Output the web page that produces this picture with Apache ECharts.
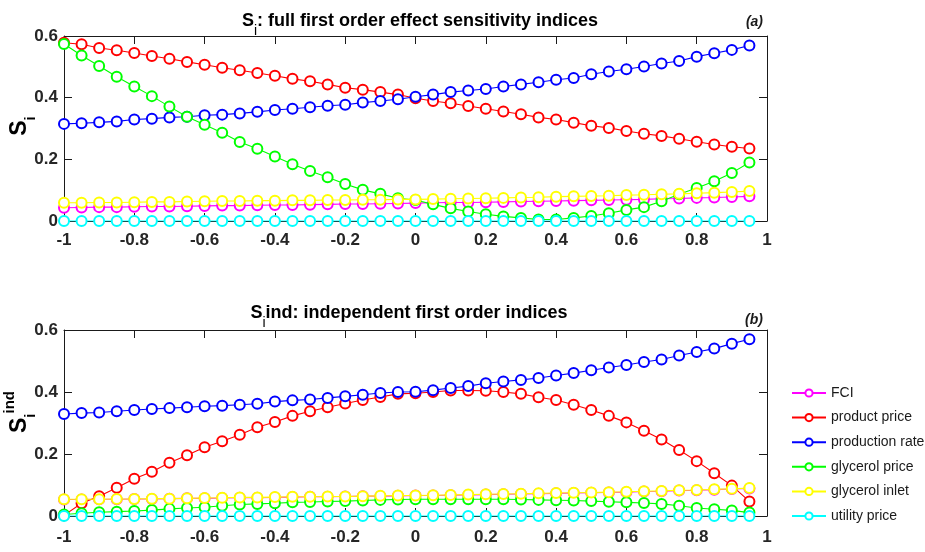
<!DOCTYPE html>
<html>
<head>
<meta charset="utf-8">
<script src="https://cdn.jsdelivr.net/npm/echarts@6/dist/echarts.min.js"></script>
<style>html,body{margin:0;padding:0;background:#fff;}#c{width:925px;height:552px;}</style>
</head>
<body>
<div id="c"></div>
<script>
// ---- data ----
const xValues = [-1,-0.95,-0.9,-0.85,-0.8,-0.75,-0.7,-0.65,-0.6,-0.55,-0.5,-0.45,-0.4,-0.35,-0.3,-0.25,-0.2,-0.15,-0.1,-0.05,
                 0,0.05,0.1,0.15,0.2,0.25,0.3,0.35,0.4,0.45,0.5,0.55,0.6,0.65,0.7,0.75,0.8,0.85,0.9,0.95];
const seriesNames = ['FCI','product price','production rate','glycerol price','glycerol inlet','utility price'];
const seriesColors = ['#ff00ff','#ff0000','#0000ff','#00ff00','#ffff00','#00ffff'];
const xTicks = [-1,-0.8,-0.6,-0.4,-0.2,0,0.2,0.4,0.6,0.8,1];
const yTicks = [0,0.2,0.4,0.6];

// (a) full first order effect sensitivity indices
const fciA = [0.043,0.044,0.045,0.045,0.046,0.047,0.047,0.048,0.049,0.050,0.050,0.051,0.052,0.052,0.053,0.054,0.055,0.055,0.056,0.057,
              0.058,0.059,0.060,0.060,0.061,0.062,0.063,0.064,0.065,0.066,0.067,0.068,0.069,0.070,0.072,0.073,0.075,0.076,0.078,0.080];
const productPriceA = [0.578,0.573,0.561,0.554,0.545,0.535,0.526,0.516,0.507,0.497,0.489,0.480,0.471,0.461,0.453,0.443,0.432,0.426,0.418,0.410,
                       0.398,0.389,0.382,0.373,0.364,0.355,0.346,0.336,0.329,0.319,0.309,0.302,0.292,0.283,0.276,0.267,0.257,0.248,0.241,0.235];
const productionRateA = [0.315,0.317,0.320,0.323,0.329,0.332,0.336,0.338,0.343,0.345,0.349,0.354,0.360,0.364,0.369,0.374,0.377,0.384,0.389,0.395,
                         0.403,0.410,0.418,0.423,0.428,0.436,0.443,0.450,0.458,0.464,0.476,0.485,0.492,0.501,0.511,0.519,0.533,0.544,0.555,0.569];
const glycerolPriceA = [0.574,0.537,0.503,0.468,0.436,0.405,0.371,0.338,0.312,0.286,0.256,0.234,0.209,0.184,0.162,0.142,0.120,0.101,0.088,0.074,
                        0.068,0.054,0.041,0.031,0.022,0.015,0.010,0.005,0.005,0.010,0.016,0.025,0.036,0.045,0.064,0.087,0.107,0.129,0.156,0.190];
const glycerolInletA = [0.059,0.059,0.060,0.060,0.061,0.062,0.062,0.063,0.064,0.065,0.065,0.066,0.066,0.067,0.067,0.068,0.068,0.069,0.069,0.070,
                        0.070,0.071,0.072,0.073,0.074,0.075,0.076,0.077,0.079,0.080,0.081,0.082,0.084,0.085,0.087,0.088,0.090,0.092,0.094,0.097];
const utilityPriceA = [0,0,0,0,0,0,0,0,0,0,0,0,0,0,0,0,0,0,0,0,0,0,0,0,0,0,0,0,0,0,0,0,0,0,0,0,0,0,0,0];

// (b) independent first order indices
const fciB = [0.053,0.053,0.054,0.054,0.055,0.055,0.056,0.057,0.057,0.058,0.059,0.059,0.060,0.061,0.062,0.062,0.063,0.064,0.064,0.065,
              0.066,0.066,0.067,0.068,0.069,0.070,0.071,0.072,0.073,0.074,0.075,0.076,0.077,0.079,0.080,0.082,0.083,0.085,0.087,0.089];
const productPriceB = [0.002,0.041,0.064,0.091,0.120,0.143,0.172,0.196,0.222,0.241,0.262,0.286,0.303,0.323,0.338,0.351,0.363,0.374,0.384,0.394,
                       0.396,0.400,0.405,0.405,0.404,0.400,0.394,0.383,0.374,0.359,0.342,0.323,0.302,0.275,0.247,0.213,0.177,0.138,0.098,0.047];
const productionRateB = [0.329,0.332,0.334,0.338,0.342,0.345,0.348,0.351,0.354,0.356,0.359,0.362,0.369,0.373,0.376,0.381,0.386,0.391,0.397,0.400,
                         0.401,0.406,0.413,0.419,0.428,0.434,0.439,0.445,0.453,0.461,0.470,0.479,0.487,0.497,0.505,0.518,0.529,0.540,0.556,0.570];
const glycerolPriceB = [0.005,0.009,0.012,0.014,0.016,0.019,0.023,0.026,0.028,0.033,0.037,0.039,0.041,0.044,0.045,0.047,0.048,0.050,0.052,0.053,
                        0.054,0.054,0.054,0.054,0.054,0.054,0.053,0.052,0.051,0.050,0.048,0.046,0.044,0.042,0.039,0.033,0.026,0.022,0.018,0.011];
const glycerolInletB = [0.054,0.054,0.054,0.055,0.055,0.056,0.056,0.057,0.058,0.059,0.060,0.060,0.061,0.062,0.062,0.063,0.063,0.064,0.065,0.066,
                        0.066,0.067,0.068,0.069,0.070,0.071,0.072,0.073,0.074,0.075,0.076,0.077,0.078,0.080,0.081,0.083,0.084,0.086,0.088,0.090];
const utilityPriceB = [0,0,0,0,0,0,0,0,0,0,0,0,0,0,0,0,0,0,0,0,0,0,0,0,0,0,0,0,0,0,0,0,0,0,0,0,0,0,0,0];

const panelA = [fciA, productPriceA, productionRateA, glycerolPriceA, glycerolInletA, utilityPriceA];
const panelB = [fciB, productPriceB, productionRateB, glycerolPriceB, glycerolInletB, utilityPriceB];

// ---- chart ----
const FONT = "'Liberation Sans', Arial, Helvetica, sans-serif";
const AX = '#1a1a1a';
const TXT = '#262626';
const chart = echarts.init(document.getElementById('c'), null, {renderer: 'canvas'});

const grids = [
  {left: 64, top: 36, width: 703, height: 185},
  {left: 64, top: 330, width: 703, height: 186}
];
const xLabelMargins = [11, 13];

function fmtTick(v) { const r = Math.round(v * 10) / 10; return String(r); }

const xAxes = [], yAxes = [];
grids.forEach((g, gi) => {
  xAxes.push({
    type: 'value', gridIndex: gi, position: 'bottom', min: xTicks[0], max: xTicks[xTicks.length - 1], interval: 0.2,
    axisLine: {show: true, onZero: false, lineStyle: {color: AX, width: 1}},
    axisTick: {show: true, inside: true, length: 8, lineStyle: {color: AX}},
    axisLabel: {show: true, margin: xLabelMargins[gi], color: TXT, fontFamily: FONT, fontWeight: 'bold', fontSize: 17, formatter: fmtTick},
    splitLine: {show: false}
  });
  xAxes.push({
    type: 'value', gridIndex: gi, position: 'top', min: xTicks[0], max: xTicks[xTicks.length - 1], interval: 0.2,
    axisLine: {show: true, onZero: false, lineStyle: {color: AX, width: 1}},
    axisTick: {show: true, inside: true, length: 8, lineStyle: {color: AX}},
    axisLabel: {show: false}, splitLine: {show: false}
  });
  yAxes.push({
    type: 'value', gridIndex: gi, position: 'left', min: yTicks[0], max: yTicks[yTicks.length - 1], interval: 0.2,
    axisLine: {show: true, onZero: false, lineStyle: {color: AX, width: 1}},
    axisTick: {show: true, inside: true, length: 8, lineStyle: {color: AX}},
    axisLabel: {show: true, margin: 6, color: TXT, fontFamily: FONT, fontWeight: 'bold', fontSize: 17, formatter: fmtTick},
    splitLine: {show: false}
  });
  yAxes.push({
    type: 'value', gridIndex: gi, position: 'right', min: yTicks[0], max: yTicks[yTicks.length - 1], interval: 0.2,
    axisLine: {show: true, onZero: false, lineStyle: {color: AX, width: 1}},
    axisTick: {show: true, inside: true, length: 8, lineStyle: {color: AX}},
    axisLabel: {show: false}, splitLine: {show: false}
  });
});

const series = [];
[panelA, panelB].forEach((panel, pi) => {
  panel.forEach((vals, si) => {
    series.push({
      name: seriesNames[si], type: 'line', xAxisIndex: pi * 2, yAxisIndex: pi * 2,
      data: xValues.map((x, i) => [x, vals[i]]),
      symbol: 'emptyCircle', symbolSize: 10, showAllSymbol: true,
      lineStyle: {color: seriesColors[si], width: 1.1},
      itemStyle: {color: seriesColors[si], borderColor: seriesColors[si], borderWidth: 1.1},
      emphasis: {disabled: true},
      z: 2 + si * 0.1,
      animation: false
    });
  });
});

const titleRich = {
  m: {fontFamily: FONT, fontWeight: 'bold', fontSize: 18, color: '#1a1a1a', lineHeight: 22},
  s: {fontFamily: FONT, fontWeight: 'normal', fontSize: 14, color: '#1a1a1a', verticalAlign: 'bottom', lineHeight: 34}
};
const ylabRich = {
  m: {fontFamily: FONT, fontWeight: 'bold', fontSize: 23, color: '#1a1a1a', lineHeight: 26},
  s: {fontFamily: FONT, fontWeight: 'bold', fontSize: 15, color: '#1a1a1a', verticalAlign: 'bottom', lineHeight: 36},
  p: {fontFamily: FONT, fontWeight: 'bold', fontSize: 15, color: '#1a1a1a', verticalAlign: 'top', lineHeight: 36}
};

chart.setOption({
  backgroundColor: '#ffffff',
  animation: false,
  grid: grids,
  xAxis: xAxes,
  yAxis: yAxes,
  legend: {
    orient: 'vertical', left: 791, top: 385, padding: 0,
    itemWidth: 34, itemHeight: 9, itemGap: 8.6,
    data: seriesNames,
    textStyle: {fontFamily: FONT, fontSize: 14, color: '#1a1a1a', lineHeight: 16},
    selectedMode: false
  },
  graphic: [
    {type: 'text', x: 420, y: 21, z: 10, style: {text: '{m|S}{s|i}{m|: full first order effect sensitivity indices}', rich: titleRich, align: 'center', verticalAlign: 'middle'}},
    {type: 'text', x: 409, y: 313, z: 10, style: {text: '{m|S}{s|i}{m|ind: independent first order indices}', rich: titleRich, align: 'center', verticalAlign: 'middle'}},
    {type: 'text', x: 763, y: 22, z: 10, style: {text: '(a)', fontFamily: FONT, fontWeight: 'bold', fontStyle: 'italic', fontSize: 14, fill: '#1a1a1a', align: 'right', verticalAlign: 'middle'}},
    {type: 'text', x: 763, y: 320, z: 10, style: {text: '(b)', fontFamily: FONT, fontWeight: 'bold', fontStyle: 'italic', fontSize: 14, fill: '#1a1a1a', align: 'right', verticalAlign: 'middle'}},
    {type: 'text', x: 20, y: 126, rotation: Math.PI / 2, z: 10, style: {text: '{m|S}{s|i}', rich: ylabRich, align: 'center', verticalAlign: 'middle'}},
    {type: 'text', x: 20, y: 412, rotation: Math.PI / 2, z: 10, style: {text: '{m|S}{s|i}{p|ind}', rich: ylabRich, align: 'center', verticalAlign: 'middle'}}
  ],
  series: series
});
</script>
</body>
</html>
